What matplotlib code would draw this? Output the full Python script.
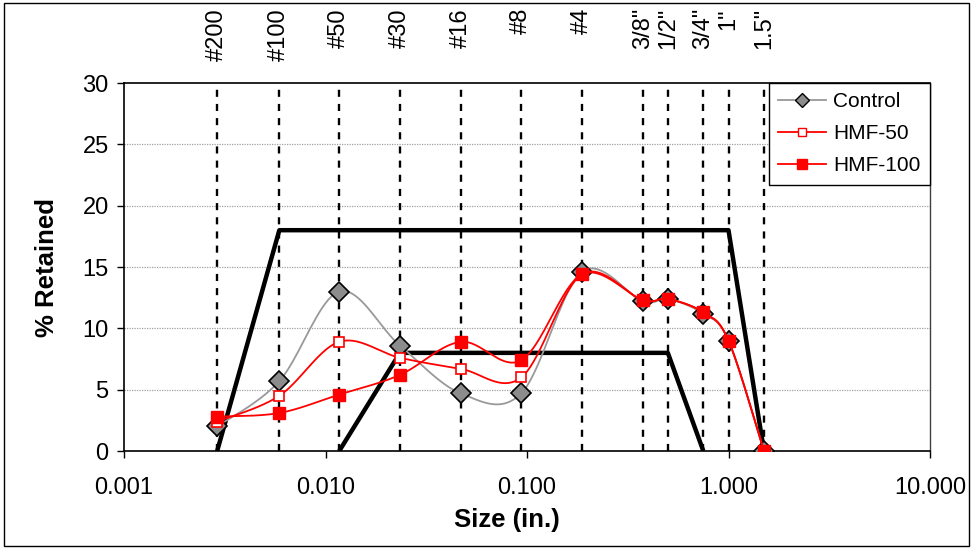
import numpy as np
import matplotlib
matplotlib.use("Agg")
import matplotlib.pyplot as plt
from matplotlib.lines import Line2D
from matplotlib.patches import Rectangle
from matplotlib.ticker import FixedLocator, FuncFormatter, NullLocator

plt.rcParams['font.family'] = ['Liberation Sans', 'DejaVu Sans']

# Sieve openings (in.) and their names
sieve_labels = ['#200', '#100', '#50', '#30', '#16', '#8', '#4',
                '3/8"', '1/2"', '3/4"', '1"', '1.5"']
sieve_sizes = [0.0029, 0.0059, 0.0117, 0.0234, 0.0469, 0.0937, 0.187,
               0.375, 0.5, 0.75, 1.0, 1.5]

# Percent retained on each sieve
control = [2.0, 5.7, 13.0, 8.6, 4.7, 4.7, 14.6, 12.2, 12.4, 11.2, 9.0, 0.0]
hmf50 = [2.4, 4.5, 8.9, 7.6, 6.7, 6.0, 14.4, 12.3, 12.4, 11.3, 9.0, 0.0]
hmf100 = [2.8, 3.1, 4.6, 6.2, 8.9, 7.4, 14.4, 12.3, 12.4, 11.3, 9.0, 0.0]

# Gradation band limits
upper_x = [0.0029, 0.0059, 1.0, 1.5]
upper_y = [0.0, 18.0, 18.0, 0.0]
lower_x = [0.0117, 0.0234, 0.5, 0.75]
lower_y = [0.0, 8.0, 8.0, 0.0]

x_ticks = [0.001, 0.01, 0.1, 1.0, 10.0]
y_ticks = [0, 5, 10, 15, 20, 25, 30]


def smooth_curve(xs, ys, n=40):
    """Bezier/Catmull-Rom smoothing in log-x space."""
    u = np.log10(np.asarray(xs, float))
    v = np.asarray(ys, float)
    P = np.column_stack([u, v])
    P = np.vstack([P[0], P, P[-1]])
    out = []
    t = np.linspace(0, 1, n)[:, None]
    for i in range(1, len(P) - 2):
        p0, p1, p2, p3 = P[i - 1], P[i], P[i + 1], P[i + 2]
        c1 = p1 + (p2 - p0) / 6.0
        c2 = p2 - (p3 - p1) / 6.0
        seg = ((1 - t) ** 3) * p1 + 3 * ((1 - t) ** 2) * t * c1 \
            + 3 * (1 - t) * t ** 2 * c2 + t ** 3 * p2
        out.append(seg if i == 1 else seg[1:])
    out = np.vstack(out)
    return 10 ** out[:, 0], out[:, 1]


fig = plt.figure(figsize=(9.71, 5.48), dpi=100)
ax = fig.add_axes([124 / 971, 1 - 451 / 548, (930 - 124) / 971, (451 - 83) / 548])

ax.set_xscale('log')
ax.set_xlim(0.001, 10)
ax.set_ylim(0, 30)

# horizontal gridlines
for yv in y_ticks[1:-1]:
    ax.axhline(yv, color='#a0a0a0', lw=0.9, ls=(0, (1, 1)), zorder=1)

# sieve lines
for s in sieve_sizes:
    ax.axvline(s, color='black', lw=1.7, ls=(0, (3, 3)), zorder=2)

# band limits
ax.plot(upper_x, upper_y, color='black', lw=3.2, zorder=3, solid_capstyle='butt')
ax.plot(lower_x, lower_y, color='black', lw=3.2, zorder=3, solid_capstyle='butt')

gray = '#999999'
red = '#ff0000'

sx, sy = smooth_curve(sieve_sizes, control)
ax.plot(sx, sy, color=gray, lw=1.3, zorder=4)
ax.plot(sieve_sizes, control, ls='none', marker='D', ms=10, mfc='#8c8c8c',
        mec='black', mew=1.2, zorder=5)

sx, sy = smooth_curve(sieve_sizes, hmf50)
ax.plot(sx, sy, color=red, lw=1.3, zorder=6)
ax.plot(sieve_sizes, hmf50, ls='none', marker='s', ms=7, mfc='white',
        mec=red, mew=1.2, zorder=7)

sx, sy = smooth_curve(sieve_sizes, hmf100)
ax.plot(sx, sy, color=red, lw=1.3, zorder=8)
ax.plot(sieve_sizes, hmf100, ls='none', marker='s', ms=8.5, mfc=red,
        mec=red, mew=1.0, zorder=9)

# axes styling
ax.xaxis.set_major_locator(FixedLocator(x_ticks))
ax.xaxis.set_minor_locator(NullLocator())
ax.xaxis.set_major_formatter(FuncFormatter(lambda v, p: '%.3f' % v))
ax.set_yticks(y_ticks)
ax.tick_params(axis='both', direction='out', length=5, width=1, colors='black',
               labelsize=17)
ax.tick_params(axis='x', pad=14)
ax.tick_params(axis='y', pad=6)
for side in ['top', 'left', 'bottom']:
    ax.spines[side].set_color('black')
    ax.spines[side].set_linewidth(1.2)
ax.spines['right'].set_color('#404040')
ax.spines['right'].set_linewidth(1.0)

ax.set_ylabel('% Retained', fontsize=18.5, fontweight='bold', va='center')
ax.yaxis.set_label_coords(-(124 - 47) / (930 - 124), 0.5)
ax.set_xlabel('Size (in.)', fontsize=18.5, fontweight='bold', va='center')
ax.xaxis.set_label_coords((507 - 124) / (930 - 124), -(520 - 451) / (451 - 83))

# sieve names along the top
trans = ax.get_xaxis_transform()
for s, lab in zip(sieve_sizes, sieve_labels):
    ax.text(s, (451 - 8) / (451 - 83), lab, rotation=90, ha='center', va='top',
            fontsize=17, transform=trans, clip_on=False)

handles = [
    Line2D([], [], color=gray, lw=1.3, marker='D', ms=7, mfc='#8c8c8c', mec='black'),
    Line2D([], [], color=red, lw=1.3, marker='s', ms=6, mfc='white', mec=red),
    Line2D([], [], color=red, lw=1.3, marker='s', ms=7, mfc=red, mec=red),
]
leg = ax.legend(handles, ['Control', 'HMF-50', 'HMF-100'], loc='upper right',
                bbox_to_anchor=(1, 1), borderaxespad=0, fontsize=15,
                frameon=True, fancybox=False, framealpha=1, edgecolor='black',
                handlelength=2.3, handletextpad=0.35, borderpad=0.45,
                labelspacing=0.62)
leg.get_frame().set_linewidth(1.0)
leg.set_zorder(20)

# outer border
fig.patches.append(Rectangle((4 / 971, 2 / 548), 965 / 971, 543 / 548,
                             transform=fig.transFigure, fill=False,
                             edgecolor='black', lw=1.0))

fig.savefig('out.png', dpi=100)
